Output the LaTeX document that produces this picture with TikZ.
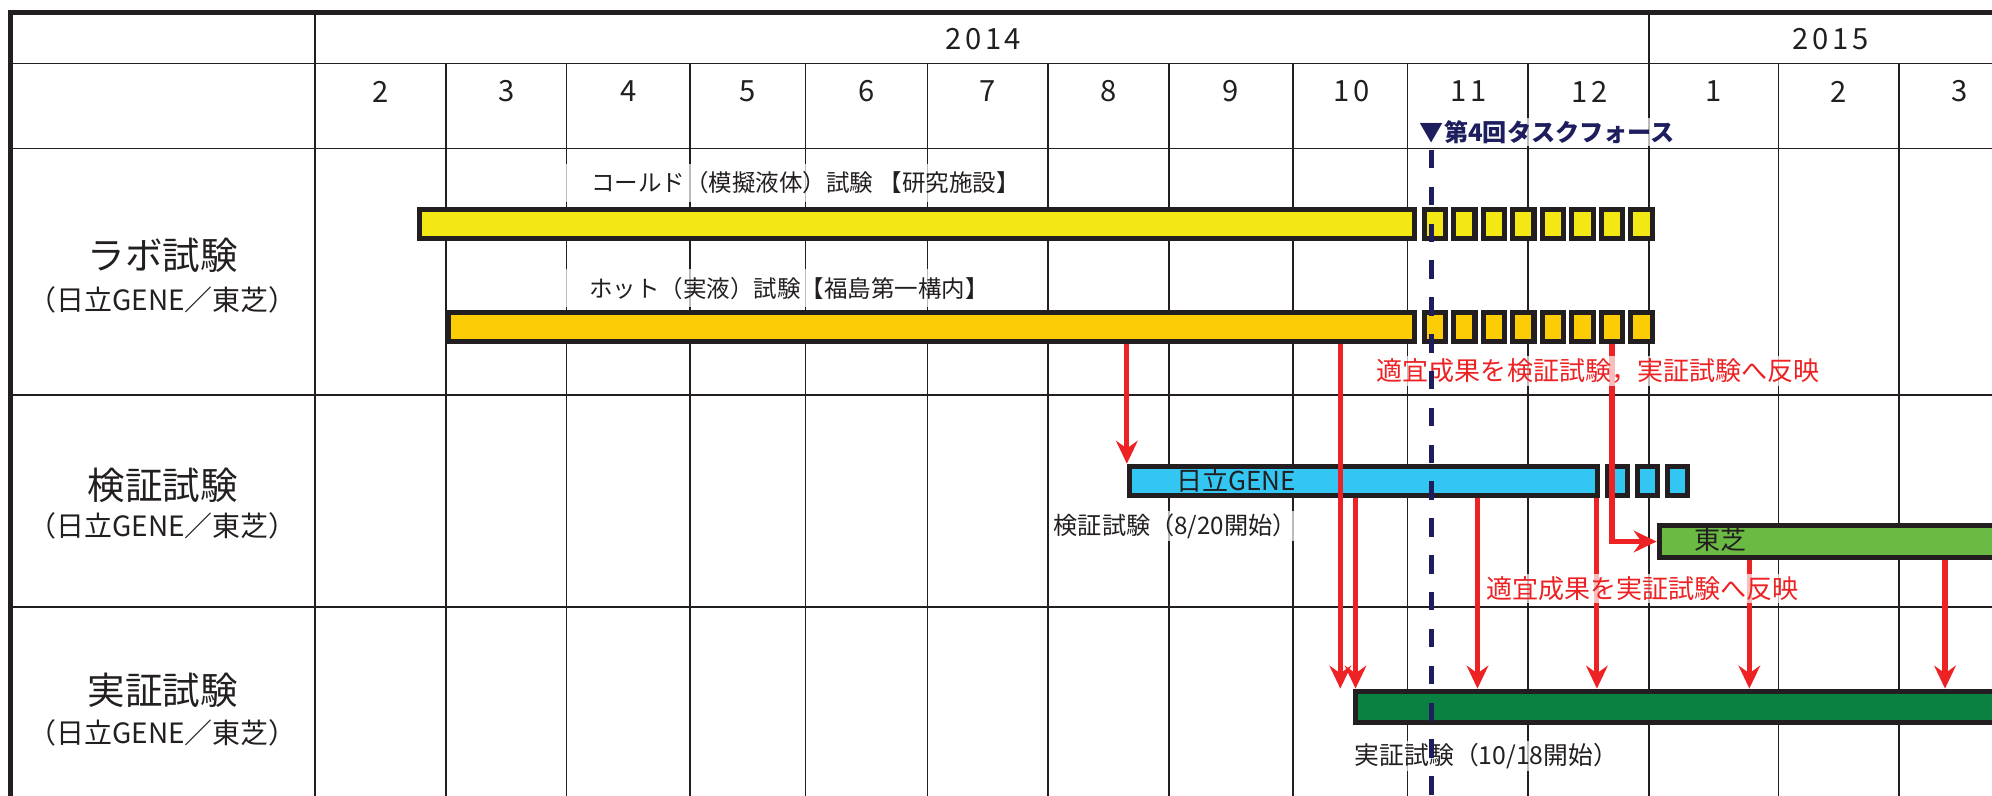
\documentclass[tikz,border=0pt]{standalone}
\usepackage{fontspec}
\setmainfont{Noto Sans CJK JP}
\newfontfamily\digitfont[LetterSpace=12]{Noto Sans CJK JP}
\usetikzlibrary{arrows.meta,positioning}

\definecolor{ink}{HTML}{231F20}
\definecolor{coldyellow}{HTML}{F4E814}
\definecolor{hotyellow}{HTML}{FCCD05}
\definecolor{geneblue}{HTML}{33C6F2}
\definecolor{toshibagreen}{HTML}{6ABA44}
\definecolor{demogreen}{HTML}{0A8041}
\definecolor{feedred}{HTML}{ED2224}
\definecolor{tfnavy}{HTML}{1E1E5F}

\newcommand{\fs}[1]{\fontsize{#1}{#1}\selectfont}

\begin{document}
\begin{tikzpicture}[x=1pt, y=-1pt, text=ink,
  rule/.style={line width=1.3pt, draw=ink},
  frame/.style={line width=4pt, draw=ink},
  bar/.style={draw=ink, line width=4pt, anchor=north west, inner sep=0pt, minimum height=23pt},
  month/.style={font=\digitfont\fs{23}},
  tag/.style={fill=white, fill opacity=0.7, text opacity=1, inner sep=2pt},
  feed/.style={draw=feedred, line width=4pt, -{Stealth[length=18pt,width=17pt,inset=6pt]}},
  tf/.style={draw=tfnavy, line width=3.7pt, dash pattern=on 14.5pt off 14.5pt}]
\useasboundingbox (0,0) rectangle (1568,626);
\clip (0,0) rectangle (1568,626);

\foreach \y in {50,117,311,478}
   \draw[rule] (8,\y) -- (1600,\y);
\draw[rule] (248,10) -- (248,640);
\draw[rule] (1298,10) -- (1298,640);
\foreach \x in {351,446,543,634,730,825,920,1018,1108,1203,1400,1495}
   \draw[rule] (\x,50) -- (\x,640);
\draw[frame] (8,640) -- (8,10) -- (1600,10);

\node[month] (y2014) at (774,31) {2014};
\node[month] (y2015) at (1441,31) {2015};
\foreach \m/\x [count=\k] in {2/299.5,3/398.5,4/494.5,5/588.5,6/682,7/777.5,8/872.5,9/969,10/1064,11/1156,12/1251,1/1349,2/1447.5,3/1542.5}
   \node[month] (mon\k) at (\x,72) {\m};

\node[font=\fs{29.5}] (lab) at (128,201) {ラボ試験};
\node[font=\fs{22}] (labsub) at (128,236) {（日立GENE／東芝）};
\node[font=\fs{29.5}] (ver) at (128,382) {検証試験};
\node[font=\fs{22}] (versub) at (128,414) {（日立GENE／東芝）};
\node[font=\fs{29.5}] (dem) at (128,543) {実証試験};
\node[font=\fs{22}] (demsub) at (128,577) {（日立GENE／東芝）};

\node[bar, fill=coldyellow, minimum width=783.5pt] (cold) at (328,163) {};
\node[bar, fill=hotyellow, minimum width=760.5pt] (hot) at (351,244) {};
\foreach \i in {0,...,7} {
   \node[bar, fill=coldyellow, minimum width=16.75pt] (cs\i) at ({1119+23.25*\i},163) {};
   \node[bar, fill=hotyellow, minimum width=16.75pt] (hs\i) at ({1119+23.25*\i},244) {};
}
\node[bar, fill=geneblue, minimum width=368.5pt] (gene) at (887,365) {};
\foreach \i in {0,1,2}
   \node[bar, fill=geneblue, minimum width=15.5pt] (gs\i) at ({1263.5+23.5*\i},365) {};
\node[bar, fill=toshibagreen, minimum width=400pt, minimum height=24.5pt] (toshiba) at (1304,412) {};
\node[bar, fill=demogreen, minimum width=700pt, minimum height=24.5pt] (demo) at (1065,542) {};

\foreach \n/\x in {a/1055,b/1067,c/1163,d/1257,e/1377,f/1531}
   \coordinate (x\n) at (\x,0);

\draw[feed] (hot.south -| gene.west) -- (gene.north west);
\draw[feed] (hot.south -| xa) -- (demo.north -| xa);
\draw[feed] (hs6.south) |- (toshiba.west);
\foreach \n in {b,c,d}
   \draw[feed] (gene.south -| x\n) -- (demo.north -| x\n);
\foreach \n in {e,f}
   \draw[feed] (toshiba.south -| x\n) -- (demo.north -| x\n);

\node[tag, font=\fs{18.5}, minimum width=379pt, minimum height=30pt] (coldtag) at (634,144) {コールド（模擬液体）試験 【研究施設】};
\node[tag, font=\fs{18.5}, minimum width=379pt, minimum height=30pt] (hottag) at (621,227) {ホット（実液）試験【福島第一構内】};
\node[tag, font=\fs{19}] (vertag) at (925,414) {検証試験（8/20開始）};
\node[tag, font=\fs{19.5}] (demtag) at (1170,595) {実証試験（10/18開始）};
\node[tag, font=\fs{20.5}, text=feedred] (feedtag1) at (1258,292) {適宜成果を検証試験，実証試験へ反映};
\node[tag, font=\fs{20.5}, text=feedred] (feedtag2) at (1293,463) {適宜成果を実証試験へ反映};
\node[font=\fs{20.5}] (genetag) at (973,378) {日立GENE};
\node[font=\fs{20.5}] (toshibatag) at (1354,425) {東芝};

\node[tag, font=\fs{19}\bfseries, text=tfnavy] (tftag) at (1218,104) {▼第4回タスクフォース};
\coordinate (tftop) at (1127,118);
\coordinate (tfbot) at (1127,640);
\draw[tf] (tftop) -- (tfbot);
\end{tikzpicture}
\end{document}
